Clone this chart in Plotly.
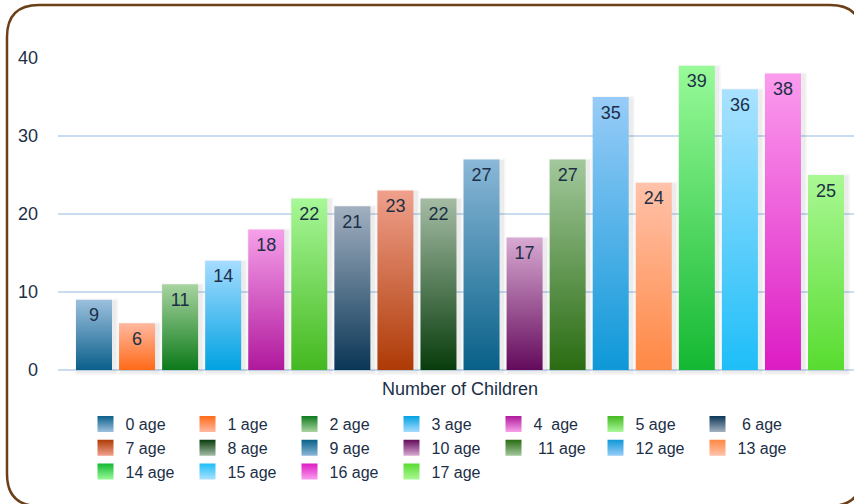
import plotly.graph_objects as go

ages = ["0 age", "1 age", "2 age", "3 age", "4\u00a0 age", "5 age", "\u00a06 age",
        "7 age", "8 age", "9 age", "10 age", "\u00a011 age", "12 age", "13 age",
        "14 age", "15 age", "16 age", "17 age"]
children = [9, 6, 11, 14, 18, 22, 21, 23, 22, 27, 17, 27, 35, 24, 39, 36, 38, 25]
bottom_colors = ["#0a5f8a", "#ff6a18", "#0c7a1a", "#00a2e2", "#b0189c", "#44b820",
                 "#0a3656", "#ae3a06", "#083c0c", "#086088", "#640a5c", "#2a6c12",
                 "#0e98d8", "#ff8844", "#14b832", "#1ebef8", "#dc1cc4", "#58dc30"]
top_colors = ["#9cc0de", "#ffb8a0", "#a8d4a0", "#a6dcff", "#f6a0ea", "#a8f898",
              "#a2b0c0", "#f0a08c", "#a4bca4", "#8ab8d8", "#d8aad2", "#a2c89c",
              "#98ccf8", "#ffc2aa", "#98fa98", "#aae2ff", "#fc9cee", "#aaf894"]
category = "Number of Children"

W, H = 854, 504
ML, MR, MT, MB = 58, 0, 57, 128
PX_UNIT = 7.8          # pixels per y unit
ZERO_PX = 370          # pixel row of y=0
PITCH = 43.06          # pixels between bar centers
FIRST = 94             # pixel column of first bar center
BAR_W = 36 / PITCH

text_col = "#1c2f47"
font = "Liberation Sans, Arial, sans-serif"

y_top = (ZERO_PX - MT) / PX_UNIT
y_bot = -((H - MB) - ZERO_PX) / PX_UNIT
x_lo = (ML - FIRST) / PITCH
x_hi = (W - MR - FIRST) / PITCH

fig = go.Figure()

# soft shadows behind bars
for grow, alpha in [(3, 0.03), (1.5, 0.045)]:
    sx, sy = [], []
    for i, v in enumerate(children):
        l = i - BAR_W / 2 + (2 - grow) / PITCH
        r = i + BAR_W / 2 + (3 + grow) / PITCH
        t = v - (2 - grow) / PX_UNIT
        b = -(2 + grow) / PX_UNIT
        sx += [l, r, r, l, l, None]
        sy += [b, b, t, t, b, None]
    fig.add_trace(go.Scatter(
        x=sx, y=sy, mode="none", fill="toself",
        fillcolor=f"rgba(0,0,0,{alpha})", showlegend=False, hoverinfo="skip",
    ))

# gradient bars
for i, (name, v) in enumerate(zip(ages, children)):
    l, r = i - BAR_W / 2, i + BAR_W / 2
    fig.add_trace(go.Scatter(
        x=[l, r, r, l, l], y=[0, 0, v, v, 0], mode="none", fill="toself",
        fillgradient=dict(type="vertical",
                          colorscale=[[0, bottom_colors[i]], [1, top_colors[i]]]),
        name=name, showlegend=False,
    ))
    # legend swatch
    fig.add_trace(go.Scatter(
        x=[None], y=[None], mode="markers", name=name,
        marker=dict(symbol="square", size=16, color=bottom_colors[i],
                    gradient=dict(type="vertical", color=top_colors[i]),
                    line=dict(width=0)),
    ))

# value labels just inside the top of each bar
fig.add_trace(go.Scatter(
    x=list(range(len(children))), y=[v - 8 / PX_UNIT for v in children],
    text=[str(v) for v in children],
    mode="text", textposition="bottom center",
    textfont=dict(size=18, color=text_col, family=font),
    showlegend=False, hoverinfo="skip",
))

# rounded frame
def px(x):
    return (x - ML) / (W - ML - MR)

def py(y):
    return ((H - MB) - y) / (H - MT - MB)

x0, y0, x1, y1, rr = 7, 5, 862, 506, 32
pts = [
    ("M", x0 + rr, y0), ("L", x1 - rr, y0), ("Q", x1, y0, x1, y0 + rr),
    ("L", x1, y1 - rr), ("Q", x1, y1, x1 - rr, y1), ("L", x0 + rr, y1),
    ("Q", x0, y1, x0, y1 - rr), ("L", x0, y0 + rr), ("Q", x0, y0, x0 + rr, y0),
]
path = ""
for p in pts:
    cmd, coords = p[0], p[1:]
    xy = []
    for k in range(0, len(coords), 2):
        xy.append(f"{px(coords[k]):.5f},{py(coords[k + 1]):.5f}")
    path += cmd + " ".join(xy) + " "
path += "Z"
fig.add_shape(type="path", path=path, xref="paper", yref="paper",
              line=dict(color="#6b4018", width=2.5), layer="above")

fig.update_layout(
    width=W, height=H,
    margin=dict(l=ML, r=MR, t=MT, b=MB, autoexpand=False),
    paper_bgcolor="white", plot_bgcolor="white",
    font=dict(family=font, size=18, color=text_col),
    xaxis=dict(range=[x_lo, x_hi], tickvals=[(len(children) - 1) / 2],
               ticktext=[category], showgrid=False, zeroline=False,
               showline=False, ticks="", fixedrange=True),
    yaxis=dict(range=[y_bot, y_top], tickvals=[0, 10, 20, 30, 40],
               showgrid=True, gridcolor="#c9dcf0", gridwidth=2,
               zeroline=False, showline=False, ticks="", ticklabelstandoff=19),
    legend=dict(orientation="h", x=px(85.5), xanchor="left", y=py(407), yanchor="top",
                entrywidth=57, entrywidthmode="pixels", itemclick=False,
                tracegroupgap=0,
                font=dict(size=16, color=text_col, family=font),
                bgcolor="rgba(0,0,0,0)"),
    showlegend=True,
)

fig.write_html("out.html", config={"displayModeBar": False},
               post_script="document.body.style.margin='0px';")
